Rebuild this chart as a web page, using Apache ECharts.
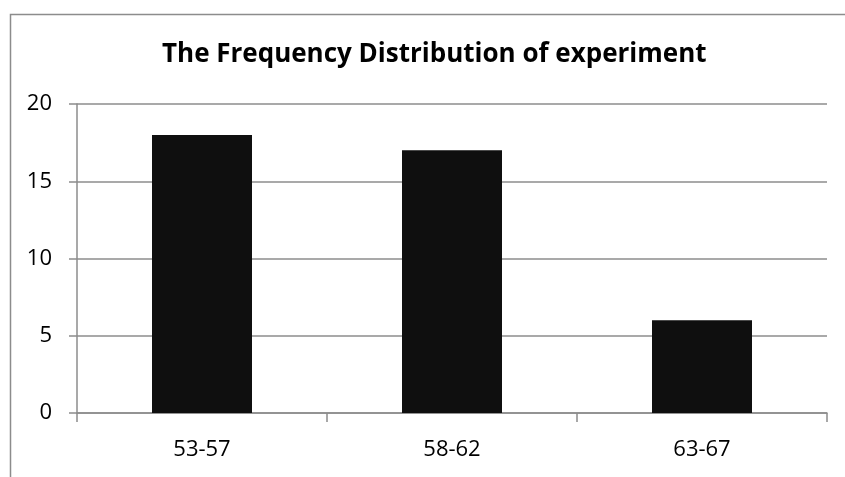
<!DOCTYPE html>
<html><head><meta charset="utf-8">
<script src="https://cdn.jsdelivr.net/npm/echarts@6/dist/echarts.min.js"></script>
<style>html,body{margin:0;padding:0;background:#fff}#c{width:845px;height:477px}</style>
</head><body><div id="c"></div>
<script>
const categories = ['53-57', '58-62', '63-67'];
const frequency = [18, 17, 6];
const titleText = 'The Frequency Distribution of experiment';

const chart = echarts.init(document.getElementById('c'), null, {renderer: 'canvas'});
const font = '"Open Sans", "Liberation Sans", sans-serif';
chart.setOption({
  animation: false,
  backgroundColor: '#fff',
  graphic: [{
    type: 'rect', left: 8, top: 12, z: -10,
    shape: {width: 900, height: 500},
    style: {fill: 'none', stroke: '#8c8c8c', lineWidth: 1.5}
  }],
  title: {
    text: titleText, left: 157, top: 37,
    textStyle: {fontFamily: font, fontWeight: 'bold', fontSize: 26, color: '#000'}
  },
  grid: {left: 77, right: 18, top: 104, bottom: 64, containLabel: false},
  xAxis: {
    type: 'category', data: categories,
    axisLine: {lineStyle: {color: '#8c8c8c', width: 1.5}},
    axisTick: {show: true, length: 9, lineStyle: {color: '#8c8c8c', width: 1.5}},
    axisLabel: {fontFamily: font, fontSize: 22, color: '#000', margin: 26}
  },
  yAxis: {
    type: 'value', min: 0, max: 20, interval: 5,
    axisLine: {show: true, lineStyle: {color: '#8c8c8c', width: 1.5}},
    axisTick: {show: true, length: 8, lineStyle: {color: '#8c8c8c', width: 1.5}},
    splitLine: {lineStyle: {color: '#8c8c8c', width: 1.5}},
    axisLabel: {fontFamily: font, fontSize: 22, color: '#000', margin: 25}
  },
  series: [{
    type: 'bar', data: frequency, barWidth: '40%',
    itemStyle: {color: '#0f0f0f'}
  }]
});
</script></body></html>
